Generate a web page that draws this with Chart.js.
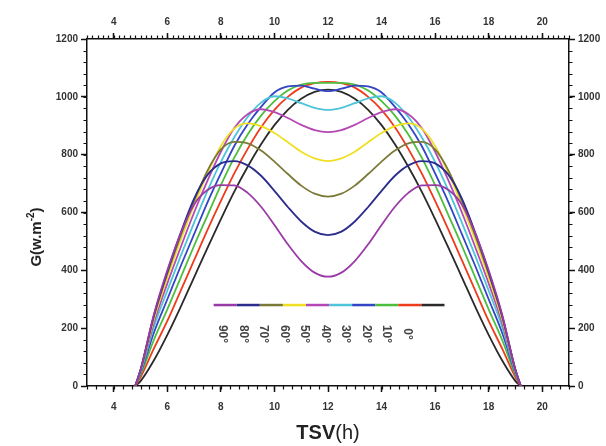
<!DOCTYPE html>
<html>
<head>
<meta charset="utf-8">
<script src="https://cdn.jsdelivr.net/npm/chart.js@4"></script>
<style>
  html, body { margin: 0; padding: 0; background: #fff; }
  #wrap { width: 606px; height: 446px; }
</style>
</head>
<body>
<div id="wrap"><canvas id="myChart"></canvas></div>
<script>
// solar time (h)
const hours = [4.8, 5, 5.5, 6, 6.5, 7, 7.5, 8, 8.5, 9, 9.5, 10, 10.5, 11, 11.5, 12,
  12.5, 13, 13.5, 14, 14.5, 15, 15.5, 16, 16.5, 17, 17.5, 18, 18.5, 19, 19.2]

// G (W/m2) for each tilt angle
const g90 = [0, 56, 248, 400, 528, 628, 678, 695, 694, 668, 620, 557, 490, 432, 392, 378,
  392, 432, 490, 557, 620, 668, 694, 695, 678, 628, 528, 400, 248, 56, 0]
const g80 = [0, 56, 245, 395, 530, 648, 730, 770, 778, 763, 727, 675, 619, 569, 534, 522,
  534, 569, 619, 675, 727, 763, 778, 770, 730, 648, 530, 395, 245, 56, 0]
const g70 = [0, 55, 240, 388, 520, 640, 745, 818, 844, 839, 814, 776, 733, 693, 665, 655,
  665, 693, 733, 776, 814, 839, 844, 818, 745, 640, 520, 388, 240, 55, 0]
const g60 = [0, 54, 232, 375, 505, 625, 735, 830, 890, 908, 899, 875, 843, 810, 787, 778,
  787, 810, 843, 875, 899, 908, 890, 830, 735, 625, 505, 375, 232, 54, 0]
const g50 = [0, 52, 220, 355, 480, 600, 710, 810, 892, 940, 957, 947, 927, 903, 885, 878,
  885, 903, 927, 947, 957, 940, 892, 810, 710, 600, 480, 355, 220, 52, 0]
const g40 = [0, 48, 205, 330, 450, 565, 675, 775, 860, 930, 980, 1002, 995, 978, 962, 955,
  962, 978, 995, 1002, 980, 930, 860, 775, 675, 565, 450, 330, 205, 48, 0]
const g30 = [0, 44, 185, 300, 415, 525, 635, 735, 830, 905, 965, 1015, 1036, 1039, 1028, 1020,
  1028, 1039, 1036, 1015, 965, 905, 830, 735, 635, 525, 415, 300, 185, 44, 0]
const g20 = [0, 38, 160, 265, 375, 485, 590, 695, 790, 870, 935, 985, 1022, 1042, 1048, 1048,
  1048, 1042, 1022, 985, 935, 870, 790, 695, 590, 485, 375, 265, 160, 38, 0]
const g10 = [0, 30, 130, 225, 330, 435, 540, 640, 735, 820, 895, 955, 1000, 1032, 1047, 1052,
  1047, 1032, 1000, 955, 895, 820, 735, 640, 540, 435, 330, 225, 130, 30, 0]
const g0 = [0, 17, 89, 177, 274, 376, 478, 577, 672, 758, 836, 902, 955, 993, 1017, 1025,
  1017, 993, 955, 902, 836, 758, 672, 577, 478, 376, 274, 177, 89, 17, 0]

const tiltLabels = ['90°', '80°', '70°', '60°', '50°', '40°', '30°', '20°', '10°', '0°']
const series = [g90, g80, g70, g60, g50, g40, g30, g20, g10, g0]
const colors = ['#9a3aa6', '#2c2c8c', '#7c7a38', '#f0e024', '#b448b6',
  '#4ec4da', '#3444c6', '#4cbe3c', '#f03a1c', '#2a2a2a']

const xTicks = [4, 6, 8, 10, 12, 14, 16, 18, 20]
const yTicks = [0, 200, 400, 600, 800, 1000, 1200]

const FONT = 'Liberation Sans, Arial, sans-serif'
const tickFont = { family: FONT, size: 10, weight: 'bold' }

function fixTicks(list) {
  return (scale) => { scale.ticks = list.map(v => ({ value: v })) }
}

function axis(position, list, min, max, size) {
  const horizontal = position === 'top' || position === 'bottom'
  return {
    type: 'linear',
    position: position,
    min: min,
    max: max,
    afterBuildTicks: fixTicks(list),
    afterFit: (s) => { if (horizontal) s.height = size; else s.width = size },
    border: { display: true, color: '#111', width: 1.5 },
    grid: { drawOnChartArea: false, drawTicks: true, tickLength: 6, tickColor: '#111', tickWidth: 1.5 },
    ticks: {
      color: '#333',
      font: tickFont,
      padding: horizontal ? (position === 'top' ? 5 : 9) : 3,
      maxRotation: 0,
      autoSkip: false,
      callback: (v) => String(v)
    }
  }
}

// minor ticks, axis titles and the inline legend
const extras = {
  id: 'extras',
  afterDraw(chart) {
    const c = chart.ctx
    const a = chart.chartArea
    const xs = chart.scales.x
    const ys = chart.scales.y
    c.save()
    c.strokeStyle = '#111'
    c.lineWidth = 1.2
    c.beginPath()
    for (let v = 3; v <= 21.001; v += 1 / 3) {
      const px = Math.round(xs.getPixelForValue(v)) + 0.5
      c.moveTo(px, a.bottom); c.lineTo(px, a.bottom + 3.5)
    }
    for (let v = 3; v <= 21.001; v += 0.2) {
      const px = Math.round(xs.getPixelForValue(v)) + 0.5
      c.moveTo(px, a.top); c.lineTo(px, a.top - 3.5)
    }
    for (let v = 0; v <= 1200; v += 40) {
      const py = Math.round(ys.getPixelForValue(v)) + 0.5
      c.moveTo(a.left, py); c.lineTo(a.left - 3.5, py)
      c.moveTo(a.right, py); c.lineTo(a.right + 3.5, py)
    }
    c.stroke()

    // x title: bold "TSV" + regular "(h)"
    c.fillStyle = '#222'
    c.textBaseline = 'middle'
    c.textAlign = 'left'
    c.font = 'bold 20px ' + FONT
    const w1 = c.measureText('TSV').width
    c.font = '20px ' + FONT
    const w2 = c.measureText('(h)').width
    const x0 = (a.left + a.right) / 2 - (w1 + w2) / 2
    c.font = 'bold 20px ' + FONT
    c.fillText('TSV', x0, 433)
    c.font = '20px ' + FONT
    c.fillText('(h)', x0 + w1, 433)

    // y title with superscript
    c.save()
    c.translate(36, 237)
    c.rotate(-Math.PI / 2)
    c.textBaseline = 'alphabetic'
    c.font = 'bold 15px ' + FONT
    const p1 = 'G(w.m'
    const sw1 = c.measureText(p1).width
    c.font = 'bold 10px ' + FONT
    const sw2 = c.measureText('-2').width
    c.font = 'bold 15px ' + FONT
    const sw3 = c.measureText(')').width
    let sx = -(sw1 + sw2 + sw3) / 2
    c.fillText(p1, sx, 5)
    c.font = 'bold 10px ' + FONT
    c.fillText('-2', sx + sw1, -2)
    c.font = 'bold 15px ' + FONT
    c.fillText(')', sx + sw1 + sw2, 5)
    c.restore()

    // legend: coloured strip with rotated labels beneath
    const lx0 = xs.getPixelForValue(7.73)
    const lx1 = xs.getPixelForValue(16.35)
    const ly = ys.getPixelForValue(280)
    const seg = (lx1 - lx0) / colors.length
    c.lineWidth = 2.5
    colors.forEach((col, i) => {
      c.strokeStyle = col
      c.beginPath()
      c.moveTo(lx0 + i * seg, ly)
      c.lineTo(lx0 + (i + 1) * seg, ly)
      c.stroke()
    })
    const labY = ys.getPixelForValue(180)
    c.font = 'bold 12px ' + FONT
    c.fillStyle = '#444'
    tiltLabels.forEach((t, i) => {
      c.save()
      c.translate(lx0 + 9 + i * 20.5, labY)
      c.rotate(Math.PI / 2)
      c.textAlign = 'center'
      c.textBaseline = 'middle'
      c.fillText(t, 0, 0)
      c.restore()
    })
    c.restore()
  }
}

const ctx = document.getElementById('myChart')
new Chart(ctx, {
  type: 'line',
  data: {
    datasets: series.map((vals, i) => ({
      label: tiltLabels[i],
      data: vals.map((v, k) => ({ x: hours[k], y: v })),
      borderColor: colors[i],
      borderWidth: 1.8,
      pointRadius: 0,
      fill: false,
      cubicInterpolationMode: 'monotone'
    }))
  },
  options: {
    responsive: true,
    maintainAspectRatio: false,
    animation: false,
    layout: { padding: 0 },
    plugins: {
      legend: { display: false },
      tooltip: { enabled: false }
    },
    scales: {
      x: axis('bottom', xTicks, 3, 21, 60),
      x2: axis('top', xTicks, 3, 21, 39),
      y: axis('left', yTicks, 0, 1200, 87),
      y2: axis('right', yTicks, 0, 1200, 37)
    }
  },
  plugins: [extras]
})
</script>
</body>
</html>
